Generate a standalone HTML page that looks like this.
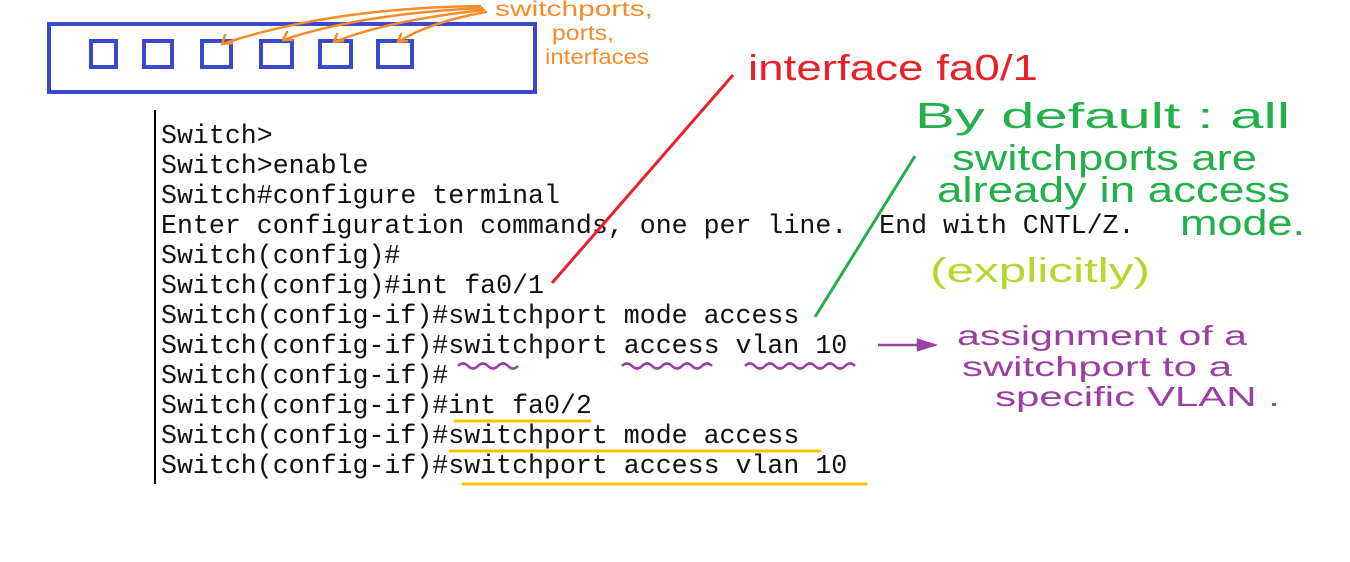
<!DOCTYPE html>
<html><head><meta charset="utf-8"><style>
html,body{margin:0;padding:0;background:#fff;}
svg{display:block}
</style></head><body>
<svg width="1350" height="562" xmlns="http://www.w3.org/2000/svg">
<rect x="49" y="24" width="486" height="68" fill="none" stroke="#3b47cc" stroke-width="4"/>
<g fill="none" stroke="#3b47cc" stroke-width="4">
<rect x="91" y="41" width="25" height="26"/><rect x="144" y="41" width="28" height="26"/>
<rect x="202" y="41" width="29" height="26"/><rect x="261" y="41" width="31" height="26"/>
<rect x="320" y="41" width="31" height="26"/><rect x="378" y="41" width="34" height="26"/>
</g>
<g fill="none" stroke="#f58b2a" stroke-width="2.5" stroke-linecap="round">
<path d="M480 6 Q330 8 222 44"/><path d="M482 8 Q360 14 283 40"/>
<path d="M484 10 Q390 20 334 42"/><path d="M486 12 Q430 22 398 42"/>
<path d="M222 44 l3 -9 M222 44 l10 -1"/><path d="M283 40 l4 -8 M283 40 l9 0"/>
<path d="M334 42 l3 -8 M334 42 l9 -1"/><path d="M398 42 l3 -8 M398 42 l9 -1"/>
</g>
<g font-family="Liberation Sans, sans-serif" fill="#f58b2a" font-size="21">
<text x="495" y="16" textLength="158" lengthAdjust="spacingAndGlyphs">switchports,</text>
<text x="552" y="40" textLength="62" lengthAdjust="spacingAndGlyphs">ports,</text>
<text x="545" y="64" textLength="104" lengthAdjust="spacingAndGlyphs">interfaces</text>
</g>
<line x1="155" y1="110" x2="155" y2="484" stroke="#000" stroke-width="2"/>
<g font-family="Liberation Mono, monospace" font-size="26.6" fill="#111">
<text x="161" y="143">Switch&gt;</text>
<text x="161" y="173">Switch&gt;enable</text>
<text x="161" y="203">Switch#configure terminal</text>
<text x="161" y="233" xml:space="preserve">Enter configuration commands, one per line.  End with CNTL/Z.</text>
<text x="161" y="263">Switch(config)#</text>
<text x="161" y="293">Switch(config)#int fa0/1</text>
<text x="161" y="323">Switch(config-if)#switchport mode access</text>
<text x="161" y="353">Switch(config-if)#switchport access vlan 10</text>
<text x="161" y="383">Switch(config-if)#</text>
<text x="161" y="413">Switch(config-if)#int fa0/2</text>
<text x="161" y="443">Switch(config-if)#switchport mode access</text>
<text x="161" y="473">Switch(config-if)#switchport access vlan 10</text>
</g>
<line x1="552" y1="283" x2="733" y2="75" stroke="#e8202a" stroke-width="3"/>
<text x="748" y="80" font-family="Liberation Sans, sans-serif" font-size="36" fill="#e8202a" textLength="290" lengthAdjust="spacingAndGlyphs">interface fa0/1</text>
<line x1="815" y1="317" x2="915" y2="156" stroke="#22b04a" stroke-width="3"/>
<g font-family="Liberation Sans, sans-serif" fill="#22b04a" font-size="36">
<text x="915" y="128" textLength="375" lengthAdjust="spacingAndGlyphs">By default : all</text>
<text x="952" y="170" textLength="305" lengthAdjust="spacingAndGlyphs">switchports are</text>
<text x="937" y="202" textLength="353" lengthAdjust="spacingAndGlyphs">already in access</text>
<text x="1180" y="235" textLength="125" lengthAdjust="spacingAndGlyphs">mode.</text>
</g>
<text x="930" y="282" font-family="Liberation Sans, sans-serif" font-size="34" fill="#b5d82a" textLength="220" lengthAdjust="spacingAndGlyphs">(explicitly)</text>
<g fill="none" stroke="#9b3fa2" stroke-width="2.5">
<path d="M878 345 L928 345"/><path d="M918 340 L934 345 L918 350 Z" fill="#9b3fa2"/>
<path d="M458 366 q5 -5 10 0 t10 0 t10 0 t10 0 t10 0 t10 0"/>
<path d="M622 366 q5 -5 10 0 t10 0 t10 0 t10 0 t10 0 t10 0 t10 0 t10 0 t10 0"/>
<path d="M745 366 q5 -5 10 0 t10 0 t10 0 t10 0 t10 0 t10 0 t10 0 t10 0 t10 0 t10 0 t10 0"/>
</g>
<g font-family="Liberation Sans, sans-serif" fill="#9b3fa2" font-size="28">
<text x="957" y="345" textLength="290" lengthAdjust="spacingAndGlyphs">assignment of a</text>
<text x="962" y="376" textLength="270" lengthAdjust="spacingAndGlyphs">switchport to a</text>
<text x="995" y="406" textLength="285" lengthAdjust="spacingAndGlyphs">specific VLAN .</text>
</g>
<g stroke="#ffc000" stroke-width="3" stroke-linecap="round">
<line x1="455" y1="421" x2="590" y2="421"/>
<line x1="450" y1="451" x2="820" y2="451"/>
<line x1="463" y1="484" x2="866" y2="484"/>
</g>
</svg>
</body></html>
